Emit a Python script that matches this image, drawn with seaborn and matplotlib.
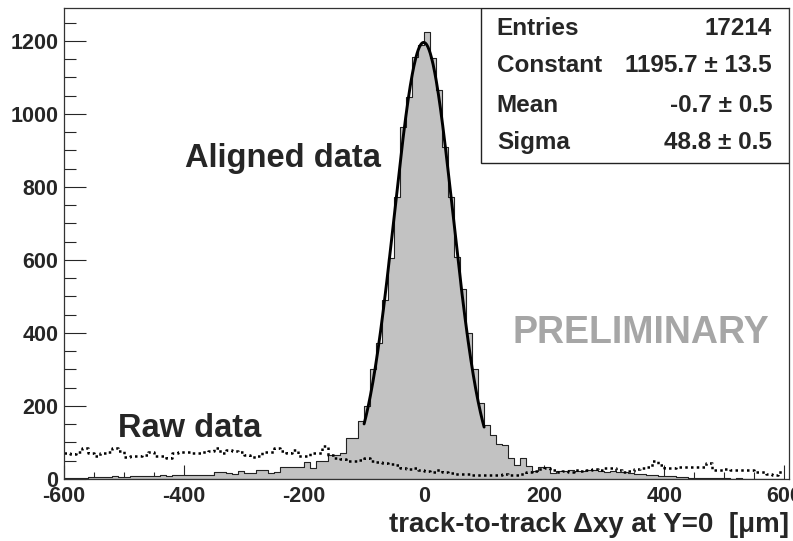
import numpy as np
import pandas as pd
import matplotlib
matplotlib.use("Agg")
import matplotlib.pyplot as plt
from matplotlib.patches import Rectangle
from matplotlib.ticker import MultipleLocator
import seaborn as sns

# ---- histogram binning: 120 bins of 10 um from -600 to 600 ----
bin_lo = np.arange(-600, 600, 10)

# aligned residuals (counts per bin)
aligned_counts = [
    2, 3, 4, 3, 5, 6, 5, 6, 7, 6,
    6, 8, 7, 8, 9, 9, 10, 9, 11, 12,
    11, 12, 10, 11, 12, 20, 19, 16, 15, 23,
    16, 16, 25, 24, 16, 20, 34, 34, 33, 34,
    47, 30, 48, 48, 66, 66, 71, 112, 113, 160,
    200, 300, 372, 490, 605, 773, 965, 1047, 1157, 1190,
    1225, 1153, 1066, 910, 773, 609, 520, 400, 300, 208,
    148, 120, 95, 93, 58, 39, 58, 35, 21, 34,
    34, 16, 21, 21, 25, 21, 21, 25, 25, 22,
    20, 22, 18, 20, 17, 15, 14, 12, 10, 9,
    8, 7, 6, 5, 4, 3, 3, 2, 3, 2,
    2, 1, 2, 1, 1, 1, 0, 1, 0, 0,
]

# raw (unaligned) residuals (counts per bin)
raw_counts = [
    71, 69, 73, 85, 72, 64, 70, 74, 85, 76,
    61, 62, 64, 66, 74, 64, 62, 58, 71, 74,
    74, 72, 71, 74, 76, 85, 71, 79, 76, 74,
    66, 61, 62, 75, 74, 85, 78, 72, 79, 62,
    64, 72, 72, 90, 66, 58, 55, 50, 48, 52,
    57, 50, 47, 44, 41, 38, 30, 27, 29, 25,
    22, 20, 24, 18, 17, 15, 14, 13, 11, 12,
    10, 12, 11, 13, 11, 12, 15, 20, 22, 28,
    30, 24, 20, 22, 20, 24, 22, 25, 27, 25,
    29, 31, 24, 20, 22, 27, 31, 34, 48, 38,
    30, 30, 34, 33, 34, 32, 34, 45, 25, 25,
    27, 26, 25, 25, 24, 20, 18, 15, 12, 20,
]

# gaussian fit results
entries = 17214
fit_const, fit_const_err = 1195.7, 13.5
fit_mean, fit_mean_err = -0.7, 0.5
fit_sigma, fit_sigma_err = 48.8, 0.5
fit_range = (-100, 100)

x_ticks = [-600, -400, -200, 0, 200, 400, 600]
y_ticks = [0, 200, 400, 600, 800, 1000, 1200]

sns.set_style("ticks")
plt.rcParams["font.family"] = ["Liberation Sans", "DejaVu Sans"]
plt.rcParams["font.weight"] = "bold"
plt.rcParams["axes.unicode_minus"] = False

centers = bin_lo + 5
df = pd.DataFrame({"x": centers.astype(float),
                   "aligned": np.asarray(aligned_counts, dtype=float),
                   "raw": np.asarray(raw_counts, dtype=float)})

fig = plt.figure(figsize=(7.93, 5.41), dpi=100)
ax = fig.add_axes([64 / 793, 1 - 479 / 541, 725 / 793, 471 / 541])

sns.histplot(data=df, x="x", weights="aligned", bins=120, binrange=(-600, 600),
             element="step", fill=True, color="#c2c2c2", alpha=1.0,
             edgecolor="#222222", linewidth=0.8, ax=ax)
sns.histplot(data=df, x="x", weights="raw", bins=120, binrange=(-600, 600),
             element="step", fill=False, color="black",
             linestyle=(0, (1.0, 1.3)), linewidth=1.8, ax=ax)

# gaussian fit curve
xf = np.linspace(fit_range[0], fit_range[1], 300)
yf = fit_const * np.exp(-0.5 * ((xf - fit_mean) / fit_sigma) ** 2)
sns.lineplot(x=xf, y=yf, color="black", linewidth=2.1, ax=ax)

ax.set_xlim(-600, 608)
ax.set_ylim(0, 1290)
ax.set_xticks(x_ticks)
ax.set_yticks(y_ticks)
ax.xaxis.set_minor_locator(MultipleLocator(50))
ax.yaxis.set_minor_locator(MultipleLocator(50))
ax.tick_params(axis="x", which="major", direction="in", length=10, width=0.8,
               labelsize=15.5, pad=5, top=False)
ax.tick_params(axis="x", which="minor", direction="in", length=5, width=0.8, top=False)
ax.tick_params(axis="y", which="major", direction="in", length=16, width=0.8,
               labelsize=15.5, pad=4, right=False)
ax.tick_params(axis="y", which="minor", direction="in", length=8.5, width=0.8, right=False)
for lab in ax.get_xticklabels() + ax.get_yticklabels():
    lab.set_fontweight("bold")
for s in ax.spines.values():
    s.set_linewidth(0.9)
    s.set_color("#333333")

ax.set_ylabel("")
ax.set_xlabel("track-to-track \u0394xy at Y=0  [\u03bcm]", fontsize=20,
              fontweight="bold", loc="right", labelpad=4)

ax.text(-398, 855, "Aligned data", fontsize=23.5, fontweight="bold",
        ha="left", va="baseline")
ax.text(-510, 115, "Raw data", fontsize=23.5, fontweight="bold",
        ha="left", va="baseline")
ax.text(148, 373, "PRELIMINARY", fontsize=27, fontweight="bold",
        color="#a6a6a6", ha="left", va="baseline")

# statistics box
bx0, by0 = (481 - 64) / 725, (479 - 163) / 471
ax.add_patch(Rectangle((bx0, by0), 1 - bx0, 1 - by0, transform=ax.transAxes,
                       facecolor="white", edgecolor="#222222", linewidth=1.0,
                       zorder=5))
rows = [
    ("Entries", f"{entries}"),
    ("Constant", f"{fit_const:.1f} \u00b1 {fit_const_err:.1f}"),
    ("Mean", f"{fit_mean:.1f} \u00b1 {fit_mean_err:.1f}"),
    ("Sigma", f"{fit_sigma:.1f} \u00b1 {fit_sigma_err:.1f}"),
]
row_y = [0.957, 0.878, 0.794, 0.715]
for (name, val), yy in zip(rows, row_y):
    ax.text(0.597, yy, name, transform=ax.transAxes, fontsize=17.5,
            fontweight="bold", ha="left", va="center", zorder=6)
    ax.text(0.9766, yy, val, transform=ax.transAxes, fontsize=17.5,
            fontweight="bold", ha="right", va="center", zorder=6)

fig.savefig("out.png", dpi=100)
